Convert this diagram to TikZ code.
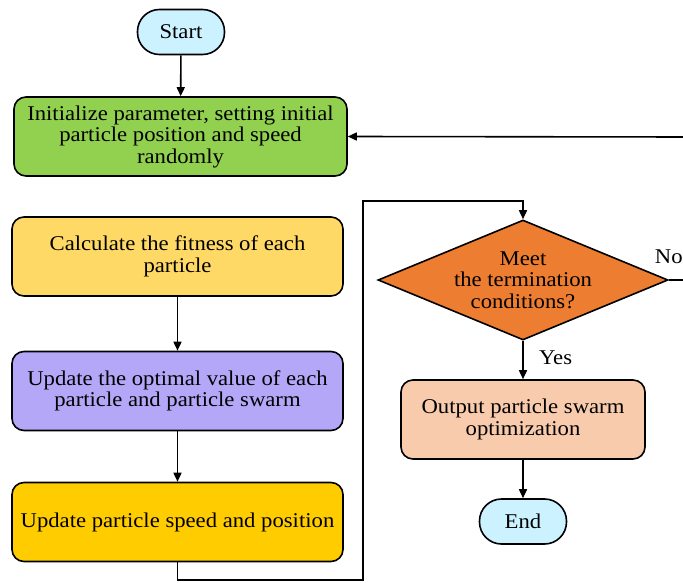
\documentclass[tikz,border=0pt]{standalone}
\usepackage{fontspec}
\setmainfont{Liberation Serif}[FakeStretch=1.08]
\usetikzlibrary{shapes.geometric,arrows.meta}

\definecolor{termfill}{HTML}{CCF2FF}
\definecolor{initfill}{HTML}{92D050}
\definecolor{fitfill}{HTML}{FFD966}
\definecolor{optfill}{HTML}{B4A7F8}
\definecolor{velfill}{HTML}{FFCC00}
\definecolor{condfill}{HTML}{ED7D31}
\definecolor{outfill}{HTML}{F8CBAD}

\begin{document}
\begin{tikzpicture}[x=1pt,y=-1pt,
  font=\fontsize{21}{21.5}\selectfont,
  box/.style={draw,line width=1.6pt,rounded corners=12pt,minimum width=331pt,
    minimum height=79pt,align=center,inner sep=2pt},
  term/.style={draw,line width=1.6pt,rounded corners=22pt,minimum width=87pt,
    minimum height=45pt,inner sep=2pt},
  link/.style={line width=1.6pt,-{Triangle[length=9pt,width=8pt]}}]

\useasboundingbox (0,0) rectangle (683,583);

% process blocks
\node[term,fill=termfill] (start) at (181,32) {Start};
\node[box,fill=initfill,minimum width=333pt] (init) at (180.5,136.5)
  {Initialize parameter, setting initial\\particle position and speed\\randomly};
\node[box,fill=fitfill] (fit) at (177.5,256.5)
  {Calculate the fitness of each\\particle};
\node[box,fill=optfill] (opt) at (177.5,391)
  {Update the optimal value of each\\particle and particle swarm};
\node[box,fill=velfill] (vel) at (177.5,522)
  {Update particle speed and position};
\node[diamond,draw,line width=1.6pt,fill=condfill,minimum width=290pt,
  minimum height=120pt,aspect=2.4,inner sep=0pt,align=center] (cond) at (523,280)
  {Meet\\the termination\\conditions?};
\node[box,fill=outfill,minimum width=244pt] (out) at (523,419.5)
  {Output particle swarm\\optimization};
\node[term,fill=termfill] (end) at (523,521.5) {End};

% bends of the loop lines
\coordinate (loopA) at (363,580);
\coordinate (loopB) at (363,201);
\coordinate (backA) at (690,280);
\coordinate (backB) at (690,137);

% connectors
\draw[link] (start) -- (init);
\draw[link] (fit) -- (opt);
\draw[link] (opt) -- (vel);
\draw[link] (vel.south) |- (loopA) -- (loopB) -| (cond.north);
\draw[link] (cond.south) -- node[pos=0.45,anchor=west,xshift=12pt] {Yes} (out.north);
\draw[link] (out) -- (end);
\draw[link] (cond.east) -- node[pos=0,anchor=base,yshift=17pt] {No} (backA)
  -- (backB) -- (init.east);
\end{tikzpicture}
\end{document}
